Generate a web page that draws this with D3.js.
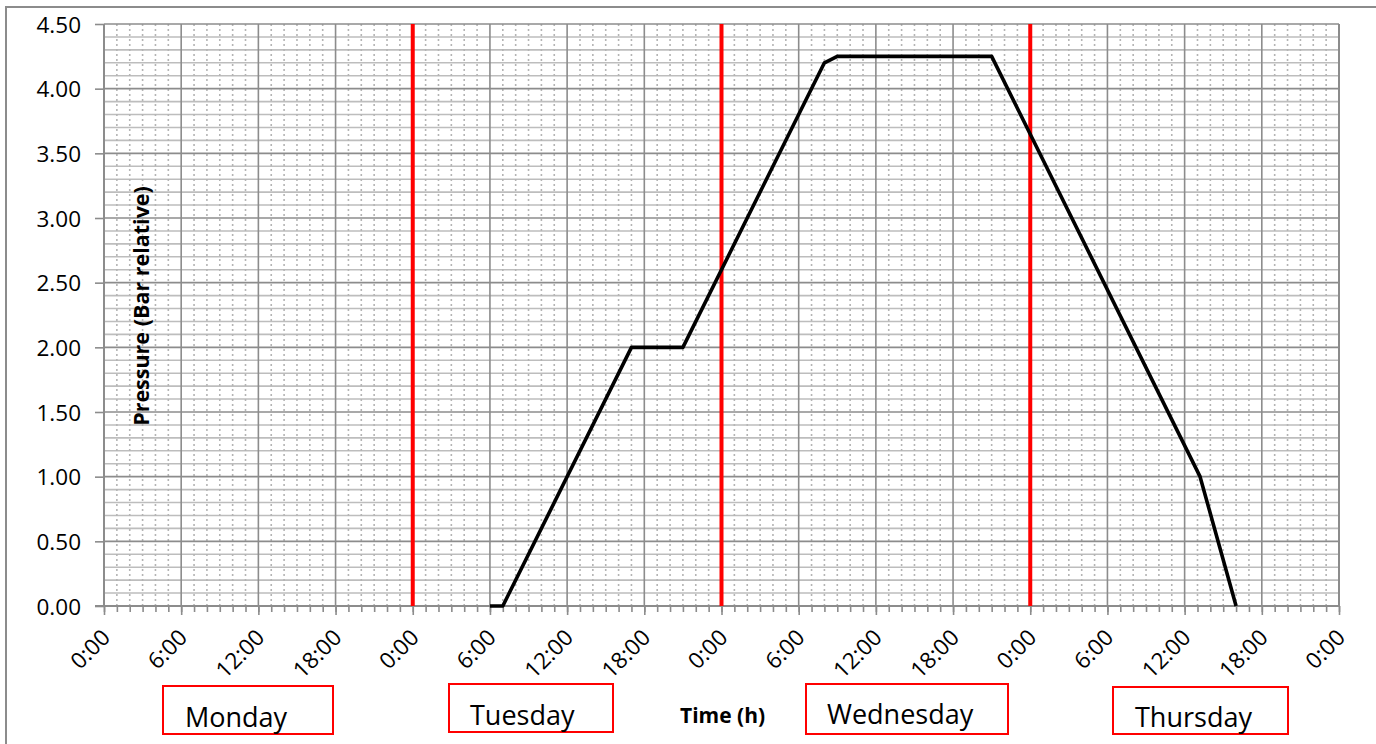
<!DOCTYPE html>
<html><head><meta charset="utf-8">
<script src="https://cdn.jsdelivr.net/npm/d3@7"></script>
<style>html,body{margin:0;padding:0;background:#fff;overflow:hidden}svg{display:block}</style>
</head><body><svg id="c" width="1376" height="744"></svg>
<script>
// ---- data ----
const days = ["Monday", "Tuesday", "Wednesday", "Thursday"];
const timeHours = [30, 31, 41, 45, 56, 57, 69, 85.2, 88];       // hours since Monday 0:00
const pressure  = [0, 0, 2.00, 2.00, 4.20, 4.25, 4.25, 1.00, 0]; // bar relative
const dayBoundaries = [24, 48, 72];                               // red markers (midnights)
const xTickHours = d3.range(0, 97, 6);
const xTickLabels = ["0:00","6:00","12:00","18:00","0:00","6:00","12:00","18:00","0:00","6:00","12:00","18:00","0:00","6:00","12:00","18:00","0:00"];
const yTickValues = [0, 0.5, 1, 1.5, 2, 2.5, 3, 3.5, 4, 4.5];
const yTickLabels = ["0.00","0.50","1.00","1.50","2.00","2.50","3.00","3.50","4.00","4.50"];
const yTitle = "Pressure (Bar relative)";
const xTitle = "Time (h)";

// ---- layout ----
const L = 104, R = 1339, T = 24, B = 606;
const FONT = "'Open Sans', 'Liberation Sans', sans-serif";
const boxes = [ // layout of day label boxes
  {x: 163, y: 686, w: 170, h: 48, tx: 185, ty: 727},
  {x: 449, y: 684, w: 164, h: 48, tx: 470, ty: 725},
  {x: 806, y: 684, w: 202, h: 50, tx: 827, ty: 724},
  {x: 1113, y: 687, w: 175, h: 47, tx: 1135, ty: 727}
];

const svg = d3.select("#c");
const x = d3.scaleLinear().domain([0, 96]).range([L, R]);
const y = d3.scaleLinear().domain([0, 4.5]).range([B, T]);

// outer chart border
svg.append("rect").attr("x", 6).attr("y", 7).attr("width", 1400).attr("height", 800)
  .attr("fill", "none").attr("stroke", "#8c8c8c").attr("stroke-width", 2);

const g = svg.append("g");
// minor horizontal grid (0.1)
const minorY = d3.range(1, 45).map(i => i / 10).filter((v, i) => (i + 1) % 5 !== 0);
g.selectAll(".mhy").data(minorY).join("line")
  .attr("x1", L).attr("x2", R).attr("y1", d => y(d)).attr("y2", d => y(d))
  .attr("stroke", "#bdbdbd").attr("stroke-width", 1.6);
// minor vertical grid (1 h), dotted
const minorX = d3.range(1, 96).filter(h => h % 6 !== 0);
g.selectAll(".mvx").data(minorX).join("line")
  .attr("x1", d => x(d)).attr("x2", d => x(d)).attr("y1", T).attr("y2", B)
  .attr("stroke", "#b4b4b4").attr("stroke-width", 1.6).attr("stroke-dasharray", "2,3");
// major horizontal grid
g.selectAll(".Mhy").data(yTickValues).join("line")
  .attr("x1", L).attr("x2", R).attr("y1", d => y(d)).attr("y2", d => y(d))
  .attr("stroke", "#8c8c8c").attr("stroke-width", 1.6);
// major vertical grid
g.selectAll(".Mvx").data(xTickHours).join("line")
  .attr("x1", d => x(d)).attr("x2", d => x(d)).attr("y1", T).attr("y2", B)
  .attr("stroke", "#8c8c8c").attr("stroke-width", 1.6);

// axes
const yAxis = d3.axisLeft(y).tickValues(yTickValues).tickSize(9).tickFormat((d, i) => yTickLabels[i]);
const ya = svg.append("g").attr("transform", `translate(${L},0)`).call(yAxis);
ya.select(".domain").remove();
ya.selectAll("line").attr("stroke", "#8c8c8c").attr("stroke-width", 1.6);
ya.selectAll("text").attr("x", -23).attr("dy", "0.36em")
  .style("font-family", FONT).style("font-size", "22.5px").attr("fill", "#000");

const xMinor = d3.axisBottom(x).tickValues(d3.range(0, 97)).tickSize(6).tickFormat("");
const xm = svg.append("g").attr("transform", `translate(0,${B})`).call(xMinor);
xm.select(".domain").remove();
xm.selectAll("line").attr("stroke", "#8c8c8c").attr("stroke-width", 1.6);
const xAxis = d3.axisBottom(x).tickValues(xTickHours).tickSize(9).tickFormat((d, i) => xTickLabels[i]);
const xa = svg.append("g").attr("transform", `translate(0,${B})`).call(xAxis);
xa.select(".domain").remove();
xa.selectAll("line").attr("stroke", "#8c8c8c").attr("stroke-width", 1.6);
xa.selectAll("text").attr("y", 0).attr("dy", 0)
  .attr("transform", "translate(7,33) rotate(-45)")
  .attr("text-anchor", "end")
  .style("font-family", FONT).style("font-size", "22.5px").attr("fill", "#000");
// axis lines
svg.append("line").attr("x1", 95).attr("x2", R).attr("y1", B).attr("y2", B)
  .attr("stroke", "#8c8c8c").attr("stroke-width", 2);
svg.append("line").attr("x1", L).attr("x2", L).attr("y1", T).attr("y2", B)
  .attr("stroke", "#8c8c8c").attr("stroke-width", 2);
svg.append("line").attr("x1", R).attr("x2", R).attr("y1", T).attr("y2", B)
  .attr("stroke", "#8c8c8c").attr("stroke-width", 2);

// red day boundary lines
svg.selectAll(".day").data(dayBoundaries).join("line")
  .attr("x1", d => x(d)).attr("x2", d => x(d)).attr("y1", T).attr("y2", B)
  .attr("stroke", "#ff0000").attr("stroke-width", 4);

// pressure line
const pts = timeHours.map((t, i) => [t, pressure[i]]);
svg.append("path").datum(pts)
  .attr("d", d3.line().x(d => x(d[0])).y(d => y(d[1])))
  .attr("fill", "none").attr("stroke", "#000").attr("stroke-width", 3.6)
  .attr("stroke-linejoin", "round");

// titles
svg.append("text").attr("transform", `translate(149,306) rotate(-90)`)
  .attr("text-anchor", "middle").style("font-family", FONT).style("font-weight", "bold")
  .style("font-size", "21.5px").text(yTitle);
svg.append("text").attr("x", 680).attr("y", 723)
  .style("font-family", FONT).style("font-weight", "bold").style("font-size", "21px").text(xTitle);

// day boxes
const bx = svg.selectAll(".box").data(days).join("g");
bx.append("rect").attr("x", (d, i) => boxes[i].x).attr("y", (d, i) => boxes[i].y)
  .attr("width", (d, i) => boxes[i].w).attr("height", (d, i) => boxes[i].h)
  .attr("fill", "#fff").attr("stroke", "#ff0000").attr("stroke-width", 2);
bx.append("text").attr("x", (d, i) => boxes[i].tx).attr("y", (d, i) => boxes[i].ty)
  .style("font-family", FONT).style("font-size", "27px").text(d => d);
</script></body></html>
